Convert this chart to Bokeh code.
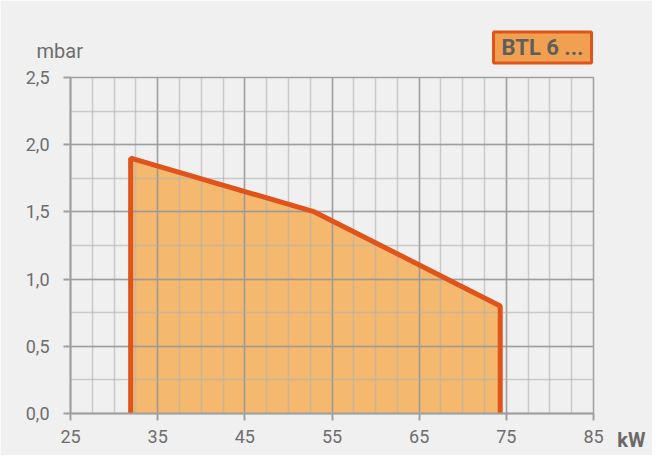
from bokeh.plotting import figure
from bokeh.models import Range1d, FixedTicker, CustomJSTickFormatter, Title
from bokeh.embed import file_html
from bokeh.resources import INLINE

# data
power_kw = [31.9, 31.9, 53.0, 74.3, 74.3]
pressure_mbar = [0.0, 1.9, 1.5, 0.8, 0.0]
x_major = [25, 35, 45, 55, 65, 75, 85]
x_minor = [25 + 2.5 * i for i in range(25)]
y_major = [0.0, 0.5, 1.0, 1.5, 2.0, 2.5]
y_minor = [0.25 * i for i in range(11)]
legend_text = "BTL 6 ..."
x_unit = "kW"
y_unit = "mbar"

BG = "#F0F0F0"
ORANGE_LINE = "#E0531A"
ORANGE_FILL = "#F4B96E"
TXT = "#6E6E6E"
FONT = "Roboto"

p = figure(frame_width=523, frame_height=336, output_backend="svg", toolbar_location=None,
           x_range=Range1d(25, 85), y_range=Range1d(0, 2.5), title=None,
           min_border_left=70, min_border_top=77, min_border_right=59, min_border_bottom=42)
p.background_fill_color = BG
p.border_fill_color = BG
p.outline_line_color = "#A0A0A0"
p.outline_line_width = 1.5

for ax, major, minor in ((p.xaxis, x_major, x_minor), (p.yaxis, y_major, y_minor)):
    ax.ticker = FixedTicker(ticks=major, minor_ticks=minor)
    ax.axis_line_color = "#A0A0A0"
    ax.axis_line_width = 2
    ax.major_tick_line_color = "#A0A0A0"
    ax.major_tick_line_width = 2
    ax.major_tick_out = 7
    ax.major_tick_in = 0
    ax.minor_tick_out = 0
    ax.minor_tick_in = 0
    ax.major_label_text_font = FONT
    ax.major_label_text_font_size = "18px"
    ax.major_label_text_color = TXT

p.yaxis.formatter = CustomJSTickFormatter(code="return tick.toFixed(1).replace('.', ',');")
p.yaxis.major_label_standoff = 14
p.xaxis.major_label_standoff = 9

for g in (p.xgrid, p.ygrid):
    g.grid_line_color = "#909090"
    g.grid_line_alpha = 0.75
    g.grid_line_width = 1.5
    g.minor_grid_line_color = "#B0B0B0"
    g.minor_grid_line_alpha = 0.6
    g.minor_grid_line_width = 1.5

p.patch(power_kw, pressure_mbar, fill_color=ORANGE_FILL, line_color=None, level="image")
p.line(power_kw, pressure_mbar, line_color=ORANGE_LINE, line_width=5)

t_mbar = Title(text=y_unit, align="left", offset=-34, standoff=30, text_font=FONT,
               text_font_size="20px", text_font_style="normal", text_color=TXT)
t_box = Title(text=legend_text, align="right", offset=2, standoff=-83, text_font=FONT,
              text_font_size="22px", text_font_style="bold", text_color="#5E5E5E",
              background_fill_color="#F0A050", border_line_color=ORANGE_LINE,
              border_line_width=3, padding=(8, 3))
t_kw = Title(text=x_unit, align="right", offset=-52, standoff=-35, vertical_align="top",
             text_font=FONT, text_font_size="20px", text_font_style="bold", text_color="#6A6A6A")
p.add_layout(t_mbar, "above")
p.add_layout(t_box, "above")
p.add_layout(t_kw, "below")

open("out.html", "w").write(file_html(p, INLINE))
